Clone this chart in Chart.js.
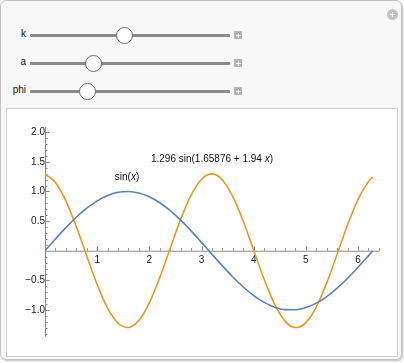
<!DOCTYPE html>
<html><head><meta charset="utf-8">
<script src="https://cdn.jsdelivr.net/npm/chart.js@4/dist/chart.umd.min.js"></script>
<style>
html,body{margin:0;padding:0;background:#fff;}
body{width:404px;height:363px;position:relative;overflow:hidden;font-family:"Liberation Sans",Arial,sans-serif;}
#panel{position:absolute;left:0;top:0;width:400px;height:358px;border:1px solid #c2c2c2;border-radius:6px;background:#f8f8f8;box-shadow:1px 1px 0 #d0d0d0, 2px 2px 0 #e6e6e6;}
#plotbox{position:absolute;left:6px;top:108px;width:390px;height:247px;border:1px solid #cfcfcf;background:#fff;}
#chart{position:absolute;left:6px;top:109px;}
.lbl{position:absolute;font-size:10px;color:#111;text-align:right;width:26px;}
.track{position:absolute;left:30px;width:200px;height:3px;background:#8a8a8a;border-radius:1px;}
.thumb{position:absolute;width:15px;height:15px;border:1px solid #6a6a6a;border-radius:50%;background:#fff;}
.plus{position:absolute;left:234px;width:8px;height:8px;background:#b4b4b4;}
.plus:before{content:"";position:absolute;left:1.5px;top:3.5px;width:5px;height:1px;background:#fff;}
.plus:after{content:"";position:absolute;left:3.5px;top:1.5px;width:1px;height:5px;background:#fff;}
#gear{position:absolute;left:387px;top:9px;width:11px;height:11px;border-radius:50%;background:#c4c4c4;}
#gear:before{content:"";position:absolute;left:3px;top:5px;width:5px;height:1.4px;background:#fff;}
#gear:after{content:"";position:absolute;left:4.8px;top:3px;width:1.4px;height:5px;background:#fff;}
</style></head>
<body>
<div id="panel"></div>
<div id="gear"></div>
<div id="sliders"></div>
<div id="plotbox"></div>
<canvas id="chart" width="391" height="248" style="width:391px;height:248px"></canvas>
<script>
// ---- data ----
const xValues = [0,0.2,0.4,0.6,0.8,1.0,1.2,1.4,1.6,1.8,2.0,2.2,2.4,2.6,2.8,3.0,3.2,3.4,3.6,3.8,4.0,4.2,4.4,4.6,4.8,5.0,5.2,5.4,5.6,5.8,6.0,6.2,6.2832];
const sinValues = [0,0.1987,0.3894,0.5646,0.7174,0.8415,0.9320,0.9854,0.9996,0.9738,0.9093,0.8085,0.6755,0.5155,0.3350,0.1411,-0.0584,-0.2555,-0.4425,-0.6119,-0.7568,-0.8716,-0.9516,-0.9937,-0.9962,-0.9589,-0.8835,-0.7728,-0.6313,-0.4646,-0.2794,-0.0831,0];
const waveValues = [1.2909,1.1520,0.8417,0.4062,-0.0896,-0.5721,-0.9695,-1.2228,-1.2944,-1.1734,-0.8781,-0.4522,0.0409,0.5280,0.9365,1.2058,1.2959,1.1933,0.9133,0.4975,0.0078,-0.4831,-0.9022,-1.1872,-1.2956,-1.2115,-0.9472,-0.5422,-0.0565,0.4376,0.8666,1.1667,1.2422];
const xTickLabels = [1,2,3,4,5,6];
const yTickLabels = [-1.0,-0.5,0.5,1.0,1.5,2.0];
const sliderNames = ['k','a','phi'];
const sliderPositions = [0.47,0.316,0.286];
const sinLabel = {text:'sin(', ital:'x', tail:')'};
const waveLabel = {text:'1.296 sin(1.65876 + 1.94 ', ital:'x', tail:')'};

// ---- layout / style ----
const FONT = '"Liberation Sans", Arial, sans-serif';
const BLUE = '#5e81b5', ORANGE = '#e19c24', AXIS = '#8c8c8c';
const labelAnchors = [{lab:sinLabel, x:1.572, y:1.24}, {lab:waveLabel, x:3.2, y:1.535}];

// sliders
const sl = document.getElementById('sliders');
const rowsY = [35, 63, 91];
sliderNames.forEach((n,i)=>{
  const y = rowsY[i];
  sl.insertAdjacentHTML('beforeend',
    `<div class="lbl" style="left:0;top:${y-7}px">${n}</div>`+
    `<div class="track" style="top:${y-1.5}px"></div>`+
    `<div class="thumb" style="left:${30+200*sliderPositions[i]-8}px;top:${y-8}px"></div>`+
    `<div class="plus" style="top:${y-4}px"></div>`);
});

const axesPlugin = {
  id:'mAxes',
  beforeDatasetsDraw(chart){
    const {ctx, scales:{x, y}} = chart;
    const x0 = x.getPixelForValue(0), y0 = y.getPixelForValue(0);
    ctx.save();
    ctx.strokeStyle = AXIS; ctx.lineWidth = 1;
    ctx.beginPath();
    ctx.moveTo(x0, y0+0.5); ctx.lineTo(x.getPixelForValue(x.max), y0+0.5);
    ctx.moveTo(Math.round(x0)+0.5, y.getPixelForValue(y.max)); ctx.lineTo(Math.round(x0)+0.5, y.getPixelForValue(y.min));
    for (let k=1;k*0.2<=x.max+1e-9;k++){
      const v = k*0.2, major = Math.abs(v-Math.round(v))<1e-9;
      const px = Math.round(x.getPixelForValue(v))+0.5;
      ctx.moveTo(px, y0); ctx.lineTo(px, y0-(major?4.5:2.5));
    }
    for (let k=Math.ceil(y.min*10);k<=Math.floor(y.max*10);k++){
      if (k===0) continue;
      const v = k/10, major = k%5===0;
      const py = Math.round(y.getPixelForValue(v))+0.5;
      ctx.moveTo(x0, py); ctx.lineTo(x0+(major?4.5:2.5), py);
    }
    ctx.stroke();
    ctx.restore();
  }
};

const labelPlugin = {
  id:'mLabels',
  afterDatasetsDraw(chart){
    const {ctx, scales:{x, y}} = chart;
    ctx.save();
    ctx.fillStyle = '#111';
    ctx.textBaseline = 'middle';
    labelAnchors.forEach(a=>{
      const nf = `10px ${FONT}`, itf = `italic 10px ${FONT}`;
      ctx.font = nf; const w1 = ctx.measureText(a.lab.text).width, w3 = ctx.measureText(a.lab.tail).width;
      ctx.font = itf; const w2 = ctx.measureText(a.lab.ital).width;
      let px = x.getPixelForValue(a.x) - (w1+w2+w3)/2;
      const py = y.getPixelForValue(a.y);
      ctx.textAlign = 'left';
      ctx.font = nf; ctx.fillText(a.lab.text, px, py); px += w1;
      ctx.font = itf; ctx.fillText(a.lab.ital, px, py); px += w2;
      ctx.font = nf; ctx.fillText(a.lab.tail, px, py);
    });
    ctx.restore();
  }
};

const fmtY = v => (v<0?'\u2212':'') + Math.abs(v).toFixed(1);

new Chart(document.getElementById('chart'), {
  type:'line',
  data:{datasets:[
    {label:'sin(x)', data:xValues.map((x,i)=>({x, y:sinValues[i]})), borderColor:BLUE, borderWidth:1.6, pointRadius:0, cubicInterpolationMode:'monotone', fill:false},
    {label:'wave', data:xValues.map((x,i)=>({x, y:waveValues[i]})), borderColor:ORANGE, borderWidth:1.6, pointRadius:0, cubicInterpolationMode:'monotone', fill:false}
  ]},
  options:{
    responsive:false, animation:false, devicePixelRatio:1,
    layout:{padding:{left:39, right:17.6, top:17.8, bottom:20.3}},
    plugins:{legend:{display:false}, tooltip:{enabled:false}},
    scales:{
      x:{type:'linear', min:0, max:6.409, position:{y:0},
         grid:{display:false, drawTicks:false}, border:{display:false},
         afterBuildTicks:s=>{s.ticks = xTickLabels.map(v=>({value:v}));},
         ticks:{autoSkip:false, maxRotation:0, padding:4, color:'#222', font:{family:FONT, size:10}, callback:v=>String(v)}},
      y:{type:'linear', min:-1.45, max:2.09, position:{x:0},
         grid:{display:false, drawTicks:false}, border:{display:false},
         afterBuildTicks:s=>{s.ticks = yTickLabels.map(v=>({value:v}));},
         ticks:{autoSkip:false, padding:4, color:'#222', font:{family:FONT, size:10}, callback:v=>fmtY(v)}}
    }
  },
  plugins:[axesPlugin, labelPlugin]
});
</script>
</body></html>
